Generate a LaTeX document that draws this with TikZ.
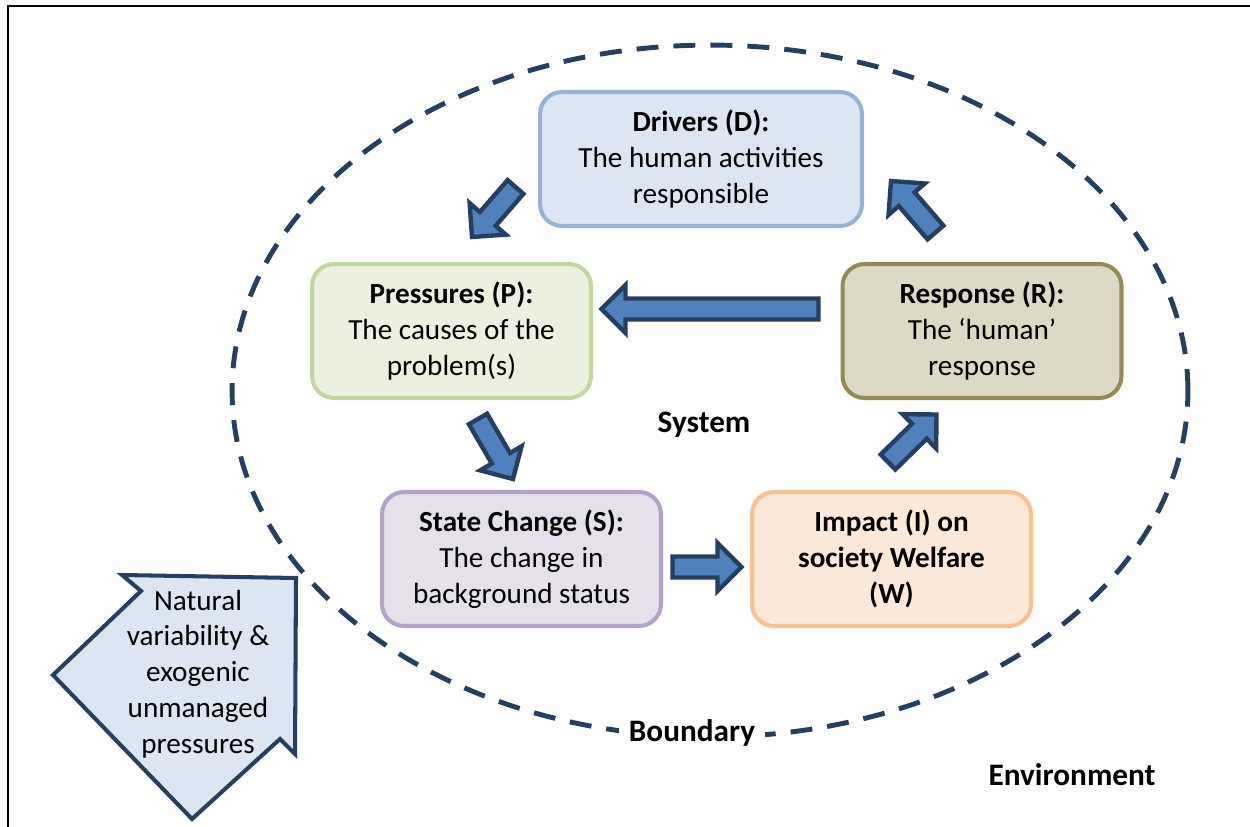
\documentclass[tikz,border=0pt]{standalone}
\usepackage{fontspec}
\setmainfont{Carlito}
\usetikzlibrary{calc}

\definecolor{navy}{HTML}{243F60}
\definecolor{arrowblue}{HTML}{4F81BD}
\definecolor{drvfill}{HTML}{DCE6F2}
\definecolor{drvline}{HTML}{95B3D7}
\definecolor{prsfill}{HTML}{EBF1DE}
\definecolor{prsline}{HTML}{C3D69B}
\definecolor{rspfill}{HTML}{DDD9C4}
\definecolor{rspline}{HTML}{948A54}
\definecolor{stafill}{HTML}{E5E0EC}
\definecolor{staline}{HTML}{B3A2C7}
\definecolor{impfill}{HTML}{FDE9D9}
\definecolor{impline}{HTML}{FAC090}

\tikzset{
  stage/.style={rectangle, rounded corners=0.44cm, line width=2.3pt,
    minimum width=5.58cm, minimum height=2.68cm, inner sep=0pt,
    align=center, font=\fontsize{16.6}{20.4}\selectfont},
  bigarrow/.style={fill=arrowblue, draw=navy, line width=2.5pt, line join=miter},
  tag/.style={font=\fontsize{17.8}{21}\selectfont\bfseries}
}

% block arrow from tail #1 to tip #2
\newcommand{\blockarrow}[2]{%
  \coordinate (ab) at ($(#2)!4.8mm!(#1)$);
  \draw[bigarrow] ($(#1)!2.1mm!90:(#2)$) -- ($(ab)!2.1mm!90:(#2)$)
    -- ($(ab)!4.8mm!90:(#2)$) -- (#2) -- ($(ab)!4.8mm!-90:(#2)$)
    -- ($(ab)!2.1mm!-90:(#2)$) -- ($(#1)!2.1mm!-90:(#2)$) -- cycle;
}

\begin{document}
\begin{tikzpicture}[x=0.02cm, y=-0.02cm]
\useasboundingbox (0,0) rectangle (1250,827);

% Frame
\draw[line width=1.15pt] (8,827) -- (8,6) -- (1250,6);

% System boundary
\draw[navy, line width=2.8pt, dash pattern=on 0.44cm off 0.3cm]
  (710,391) ellipse [x radius=9.56cm, y radius=6.92cm];

% The five stages
\node[stage, minimum width=6.44cm, fill=drvfill, draw=drvline] (drivers) at (701,159)
  {\textbf{Drivers (D):}\\The human activities\\responsible};
\node[stage, fill=prsfill, draw=prsline] (pressures) at (451.5,331)
  {\textbf{Pressures (P):}\\The causes of the\\problem(s)};
\node[stage, fill=rspfill, draw=rspline] (response) at (982,331)
  {\textbf{Response (R):}\\The `human'\\response};
\node[stage, fill=stafill, draw=staline] (state) at (521.5,559)
  {\textbf{State Change (S):}\\The change in\\background status};
\node[stage, fill=impfill, draw=impline] (impact) at (891.5,559)
  {\textbf{Impact (I) on}\\\textbf{society Welfare}\\\textbf{(W)}};

% Ends of the block arrows
\coordinate (dp1) at (515.5,187);  \coordinate (dp2) at (472,237);
\coordinate (rp1) at (818.5,309);  \coordinate (rp2) at (601.5,309);
\coordinate (ps1) at (478,419);    \coordinate (ps2) at (513,479);
\coordinate (si1) at (672.5,567);  \coordinate (si2) at (741.5,567);
\coordinate (ir1) at (888,462);    \coordinate (ir2) at (936.5,414.5);
\coordinate (rd1) at (935.5,232.5);\coordinate (rd2) at (891,181);

\foreach \t/\h in {dp1/dp2, rp1/rp2, ps1/ps2, si1/si2, ir1/ir2, rd1/rd2}
  \blockarrow{\t}{\h};

% Outside pressures
\draw[fill=drvfill, draw=navy, line width=2.3pt, line join=miter]
  (122,575) coordinate (np1) -- (296,578) -- (295,754) -- (280,739)
  -- (192,819) -- (53,675) -- (141,591) -- cycle;
\node[align=center, font=\fontsize{16.6}{20.4}\selectfont] (natural) at (198,674)
  {Natural\\variability \&\\exogenic\\unmanaged\\pressures};

% Labels
\node[tag] (system) at (704,425) {System};
\node[tag, fill=white, inner sep=2mm] (boundary) at (692,733) {Boundary};
\node[tag] (environment) at (1072,775) {Environment};

\end{tikzpicture}
\end{document}
